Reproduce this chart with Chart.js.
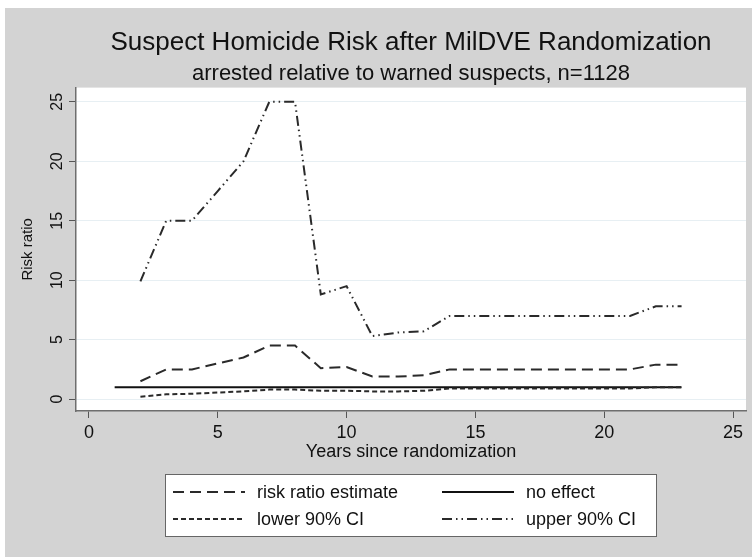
<!DOCTYPE html>
<html>
<head>
<meta charset="utf-8">
<title>Suspect Homicide Risk after MilDVE Randomization</title>
<script src="https://cdn.jsdelivr.net/npm/chart.js@4"></script>
<style>
  html, body { margin: 0; padding: 0; background: #fff; }
  #wrap { width: 752px; height: 557px; position: relative; }
</style>
</head>
<body>
<div id="wrap"><canvas id="riskChart"></canvas></div>
<script>
// values
const years = [2, 3, 4, 5, 6, 7, 8, 9, 10, 11, 12, 13, 14, 15, 16, 17, 18, 19, 20, 21, 22, 23];
const riskRatio = [1.5, 2.5, 2.5, 3.0, 3.5, 4.5, 4.5, 2.6, 2.7, 1.9, 1.9, 2.0, 2.5, 2.5, 2.5, 2.5, 2.5, 2.5, 2.5, 2.5, 2.9, 2.9];
const lower90 = [0.2, 0.4, 0.45, 0.55, 0.65, 0.8, 0.8, 0.7, 0.7, 0.65, 0.65, 0.7, 0.9, 0.9, 0.9, 0.9, 0.9, 0.9, 0.9, 0.9, 1.0, 1.0];
const upper90 = [9.9, 15, 15, 17.5, 20, 25, 25, 8.8, 9.5, 5.3, 5.6, 5.7, 7.0, 7.0, 7.0, 7.0, 7.0, 7.0, 7.0, 7.0, 7.8, 7.8];
const noEffectYears = [1, 23];
const noEffect = [1, 1];
const xTicks = [0, 5, 10, 15, 20, 25];
const yTicks = [0, 5, 10, 15, 20, 25];

const FONT = "'Liberation Sans', Arial, sans-serif";
const INK = '#2a2a2a';

function pts(xs, ys) {
  return xs.map((x, i) => ({ x: x, y: ys[i] }));
}

// gray Stata-style frame with white plot region
const backdrop = {
  id: 'backdrop',
  beforeDraw(chart) {
    const { ctx, chartArea: a } = chart;
    ctx.save();
    ctx.fillStyle = '#fff';
    ctx.fillRect(0, 0, chart.width, chart.height);
    ctx.fillStyle = '#d3d3d3';
    ctx.fillRect(5, 8, chart.width - 5, chart.height - 8);
    ctx.fillStyle = '#fff';
    ctx.fillRect(a.left, a.top, a.right - a.left, a.bottom - a.top);
    ctx.restore();
  }
};

// boxed two-column legend under the axis title
const boxLegend = {
  id: 'boxLegend',
  afterDraw(chart) {
    const { ctx } = chart;
    const ds = chart.data.datasets;
    const order = [0, 3, 1, 2]; // estimate, no effect / lower, upper
    const cols = [173, 442];
    const rows = [492, 519];
    ctx.save();
    ctx.fillStyle = '#fff';
    ctx.fillRect(165, 474, 491, 62);
    ctx.strokeStyle = '#666';
    ctx.lineWidth = 1;
    ctx.strokeRect(165.5, 474.5, 491, 62);
    ctx.font = '18px ' + FONT;
    ctx.textBaseline = 'middle';
    order.forEach((di, k) => {
      const d = ds[di];
      const x = cols[k % 2];
      const y = rows[Math.floor(k / 2)];
      ctx.strokeStyle = d.borderColor;
      ctx.lineWidth = d.borderWidth;
      ctx.setLineDash(d.borderDash || []);
      ctx.beginPath();
      ctx.moveTo(x, y);
      ctx.lineTo(x + 72, y);
      ctx.stroke();
      ctx.setLineDash([]);
      ctx.fillStyle = '#111';
      ctx.fillText(d.label, x + 84, y + 1);
    });
    ctx.restore();
  }
};

new Chart(document.getElementById('riskChart'), {
  type: 'line',
  data: {
    datasets: [{
      label: 'risk ratio estimate',
      data: pts(years, riskRatio),
      borderColor: INK,
      borderWidth: 2,
      borderDash: [11, 6]
    }, {
      label: 'lower 90% CI',
      data: pts(years, lower90),
      borderColor: INK,
      borderWidth: 2,
      borderDash: [5, 3]
    }, {
      label: 'upper 90% CI',
      data: pts(years, upper90),
      borderColor: INK,
      borderWidth: 2,
      borderDash: [10, 4, 1.5, 4, 1.5, 4]
    }, {
      label: 'no effect',
      data: pts(noEffectYears, noEffect),
      borderColor: '#111',
      borderWidth: 2
    }]
  },
  options: {
    responsive: true,
    maintainAspectRatio: false,
    animation: false,
    elements: { point: { radius: 0 }, line: { tension: 0 } },
    layout: { padding: { top: 8, left: 5, right: 6, bottom: 92 } },
    scales: {
      x: {
        type: 'linear',
        min: -0.5,
        max: 25.5,
        afterBuildTicks: (s) => { s.ticks = xTicks.map((v) => ({ value: v })); },
        afterFit: (s) => { s.height = 54; },
        grid: { drawOnChartArea: false, tickLength: 7, tickColor: '#555' },
        border: { color: '#6e6e6e', width: 1.5 },
        ticks: { padding: 4, color: '#111', font: { family: FONT, size: 18 } },
        title: {
          display: true,
          text: 'Years since randomization',
          color: '#111',
          font: { family: FONT, size: 18 },
          padding: { top: 0, bottom: 2 }
        }
      },
      y: {
        min: -1,
        max: 26.2,
        afterBuildTicks: (s) => { s.ticks = yTicks.map((v) => ({ value: v })); },
        afterFit: (s) => { s.width = 71; },
        grid: { color: '#e7eff3', lineWidth: 1, tickLength: 7, tickColor: '#555' },
        border: { color: '#6e6e6e', width: 1.5 },
        ticks: {
          minRotation: 90,
          maxRotation: 90,
          crossAlign: 'center',
          padding: 3,
          color: '#111',
          font: { family: FONT, size: 16 }
        },
        title: {
          display: true,
          text: 'Risk ratio',
          color: '#111',
          font: { family: FONT, size: 15 },
          padding: { top: 14, bottom: 0 }
        }
      }
    },
    plugins: {
      legend: { display: false },
      tooltip: { enabled: false },
      title: {
        display: true,
        fullSize: false,
        text: 'Suspect Homicide Risk after MilDVE Randomization',
        color: '#111',
        font: { family: FONT, size: 26, weight: 'normal' },
        padding: { top: 19, bottom: 0 }
      },
      subtitle: {
        display: true,
        fullSize: false,
        text: 'arrested relative to warned suspects, n=1128',
        color: '#111',
        font: { family: FONT, size: 22, weight: 'normal' },
        padding: { top: 3, bottom: 0 }
      }
    }
  },
  plugins: [backdrop, boxLegend]
});
</script>
</body>
</html>
